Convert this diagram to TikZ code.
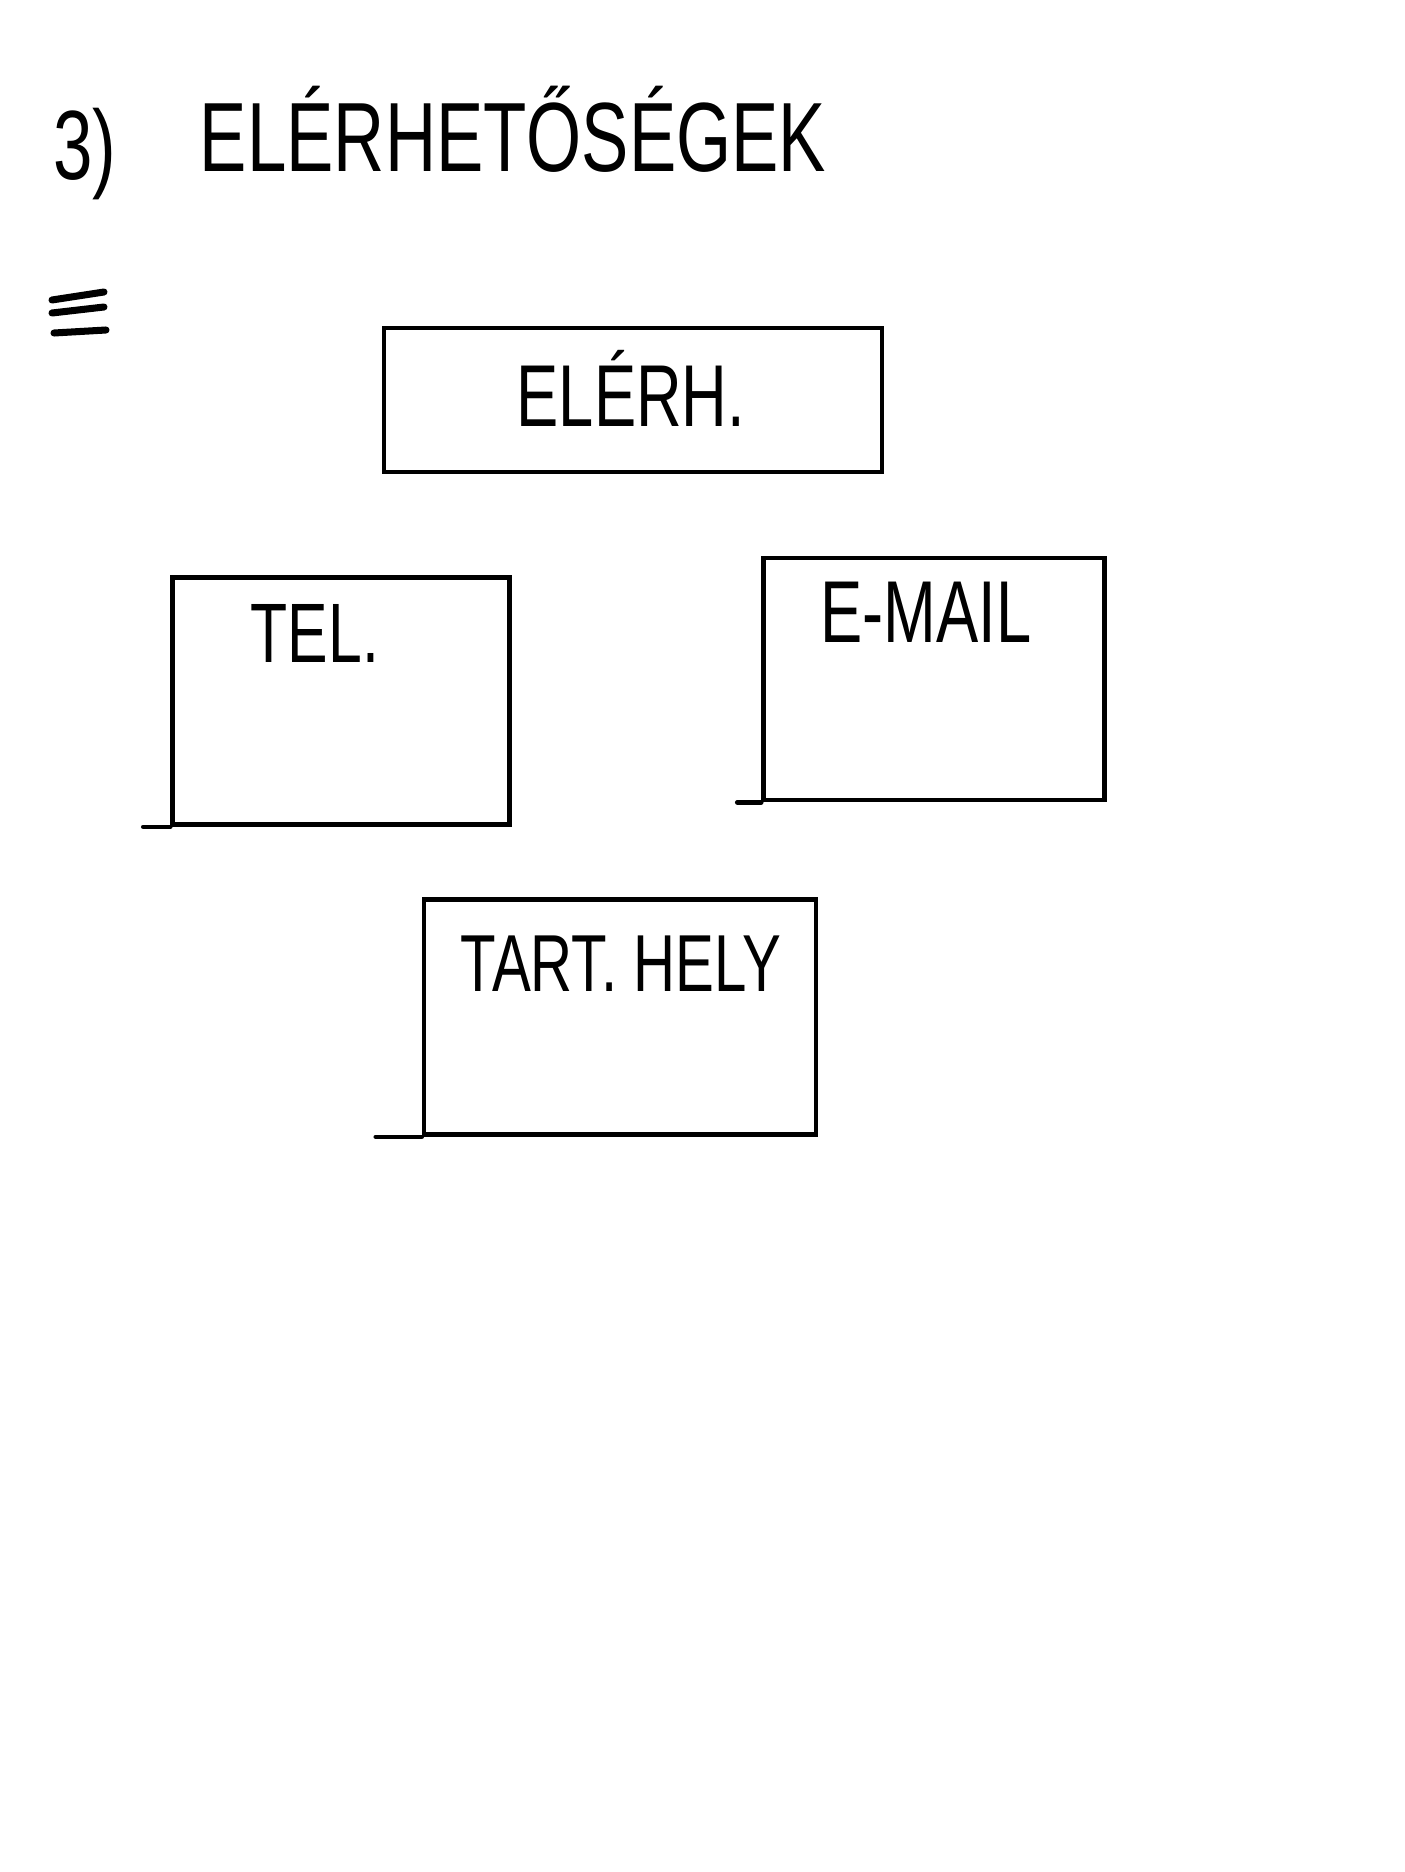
\documentclass[tikz,border=0pt]{standalone}
\usepackage{fontspec}
\newfontfamily\handfont[FakeStretch=0.72]{Liberation Sans}
\tikzset{
    hand/.style={font=\handfont\fontsize{#1}{#1}\selectfont, inner sep=0pt, anchor=base},
    card/.style={draw, line width=1.3pt, inner sep=0pt}
}
\begin{document}
\begin{tikzpicture}[x=0.1mm,y=-0.1mm,line cap=round]
    \useasboundingbox (0,0) rectangle (1404,1872);
    % heading
    \node[hand=28pt] (num) at (85,180) {3)};
    \node[hand=28pt] (title) at (513,172) {ELÉRHETŐSÉGEK};
    \draw[line width=2pt] (52,300) -- (104,292);
    \draw[line width=2pt] (52,313) -- (104,307);
    \draw[line width=2pt] (54,333) -- (106,330);
    % boxes
    \node[card, minimum width=49.8mm, minimum height=14.4mm] (elerh) at (633,400) {};
    \node[card, minimum width=33.7mm, minimum height=24.7mm] (tel) at (341,701) {};
    \node[card, minimum width=34.1mm, minimum height=24.2mm] (email) at (934,679) {};
    \node[card, minimum width=39.2mm, minimum height=23.5mm] (tart) at (620,1017) {};
    \draw[line width=1.3pt] (tel.south west) -- ++(-27,0);
    \draw[line width=1.3pt] (email.south west) -- ++(-24,0);
    \draw[line width=1.3pt] (tart.south west) -- ++(-46,0);
    % labels
    \node[hand=25pt] (elerh-text) at (631,426) {ELÉRH.};
    \node[hand=24pt] (tel-text) at (315,662) {TEL.};
    \node[hand=25pt] (email-text) at (926,642) {E-MAIL};
    \node[hand=23pt] (tart-text) at (621,991) {TART. HELY};
\end{tikzpicture}
\end{document}
